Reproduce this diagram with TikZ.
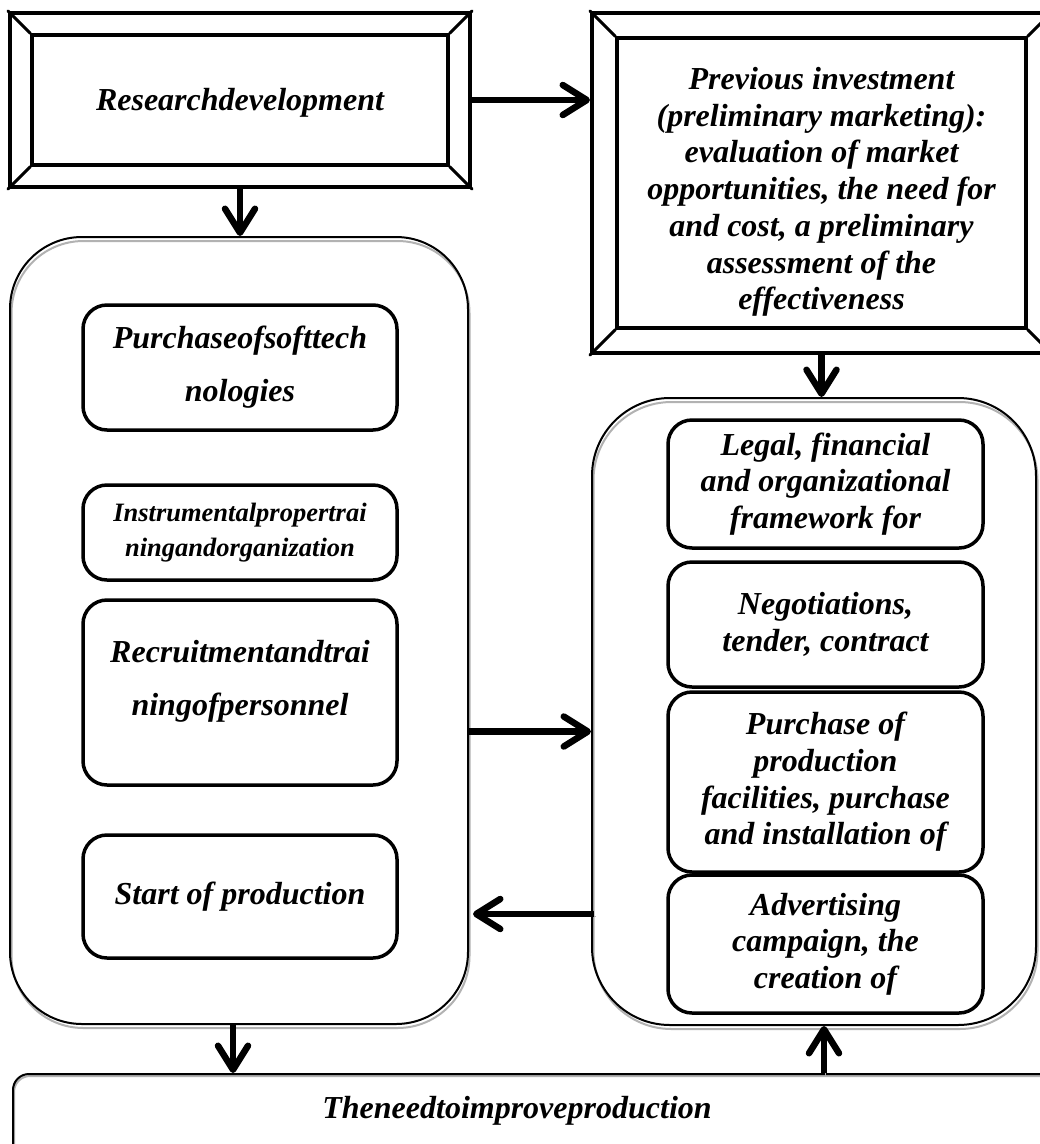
\documentclass[tikz,border=0pt]{standalone}
\usepackage{fontspec}
\setmainfont{Liberation Serif}
\usetikzlibrary{arrows.meta}
\tikzset{
  txt/.style={font=\fontsize{32}{36.7}\selectfont\bfseries\itshape, align=center},
  outer/.style={draw, line width=4pt, inner sep=0pt},
  inner/.style={draw, line width=3.5pt, inner sep=0pt, txt},
  bevel/.style={line width=3pt, line cap=round},
  cont/.style={draw, line width=2pt, rounded corners=72pt, inner sep=0pt,
    preaction={draw=gray!60, line width=2pt, transform canvas={shift={(1.5pt,-4pt)}}}},
  card/.style={draw, line width=3.5pt, rounded corners=24pt, inner sep=0pt, minimum width=314pt, txt},
  wide/.style={font=\fontsize{32}{53}\selectfont\bfseries\itshape},
  arr/.style={line width=6.5pt, -{Straight Barb[length=24pt,width=30pt,line cap=round,line join=round]},
    preaction={draw=gray!60, transform canvas={shift={(1.5pt,-2.5pt)}}}},
}
\begin{document}
\begin{tikzpicture}[x=1pt,y=-1pt]
  \useasboundingbox (0,0) rectangle (1040,1144);
  \clip (0,0) rectangle (1040,1144);
  \fill[white] (0,0) rectangle (1040,1144);

  % bevelled frames
  \node[outer, minimum width=460pt, minimum height=174pt] (rd) at (240,100) {};
  \node[inner, minimum width=416pt, minimum height=130pt] (rdin) at (rd) {\rule{0pt}{27pt}Researchdevelopment};
  \draw[bevel] (rd.north west) -- (rdin.north west) (rd.north east) -- (rdin.north east)
               (rd.south west) -- (rdin.south west) (rd.south east) -- (rdin.south east);

  \node[outer, minimum width=459pt, minimum height=340pt] (pi) at (821.5,183) {};
  \node[inner, minimum width=409pt, minimum height=290pt] (piin) at (pi)
    {\rule{0pt}{40pt}Previous investment\\(preliminary marketing):\\evaluation of market\\opportunities, the need for\\and cost, a preliminary\\assessment of the\\effectiveness};
  \draw[bevel] (pi.north west) -- (piin.north west) (pi.north east) -- (piin.north east)
               (pi.south west) -- (piin.south west) (pi.south east) -- (piin.south east);

  % containers
  \node[cont, minimum width=458pt, minimum height=787pt] (lc) at (239,630.5) {};
  \node[cont, minimum width=444pt, minimum height=627pt, rounded corners=78pt] (rc) at (814,711.5) {};

  % left column
  \node[card, wide, minimum height=125pt] (soft) at (240,367.5) {Purchaseofsofttech\\nologies};
  \node[card, minimum height=95pt, font=\fontsize{26.5}{35}\selectfont\bfseries\itshape] (instr) at (240,532.5)
    {Instrumentalpropertrai\\ningandorganization};
  \node[card, wide, minimum height=185pt] (recr) at (240,692.5) {Recruitmentandtrai\\ningofpersonnel\\[-40pt]\strut};
  \node[card, minimum height=123pt] (start) at (240,896.5) {Start of production};

  % right column
  \node[card, minimum width=315pt, minimum height=128pt] (legal) at (825.5,484)
    {Legal, financial\\and organizational\\framework for};
  \node[card, minimum width=315pt, minimum height=125pt] (nego) at (825.5,624.5)
    {Negotiations,\\tender, contract};
  \node[card, minimum width=315pt, minimum height=180pt] (facil) at (825.5,782)
    {Purchase of\\production\\facilities, purchase\\and installation of};
  \node[card, minimum width=315pt, minimum height=138pt] (adv) at (825.5,944)
    {Advertising\\campaign, the\\creation of};

  % bottom
  \node[draw, line width=2pt, rounded corners=16pt, inner sep=0pt, minimum width=1048pt,
        minimum height=100pt, anchor=north west,
        preaction={draw=gray!60, line width=2pt, transform canvas={shift={(1pt,-2pt)}}}] (need) at (12,1073) {};
  \node[txt] (needtxt) at (517,1111) {Theneedtoimproveproduction};

  % arrows
  \draw[arr] (rd.east) -- (rd.east -| pi.west);
  \draw[arr] (rd.south) -- (rd.south |- lc.north);
  \draw[arr] (pi.south) -- (pi.south |- rc.north);
  \draw[arr] ([yshift=-101pt]lc.east) -- ([yshift=-101pt]lc.east -| rc.west);
  \draw[arr] ([yshift=-202.5pt,xshift=3pt]rc.west) -- ([yshift=-202.5pt,xshift=4pt]rc.west -| lc.east);
  \draw[arr] ([xshift=-6pt]lc.south) -- ([xshift=-6pt]lc.south |- need.north);
  \draw[arr] ([xshift=10pt]rc.south |- need.north) -- ([xshift=10pt]rc.south);
\end{tikzpicture}
\end{document}
